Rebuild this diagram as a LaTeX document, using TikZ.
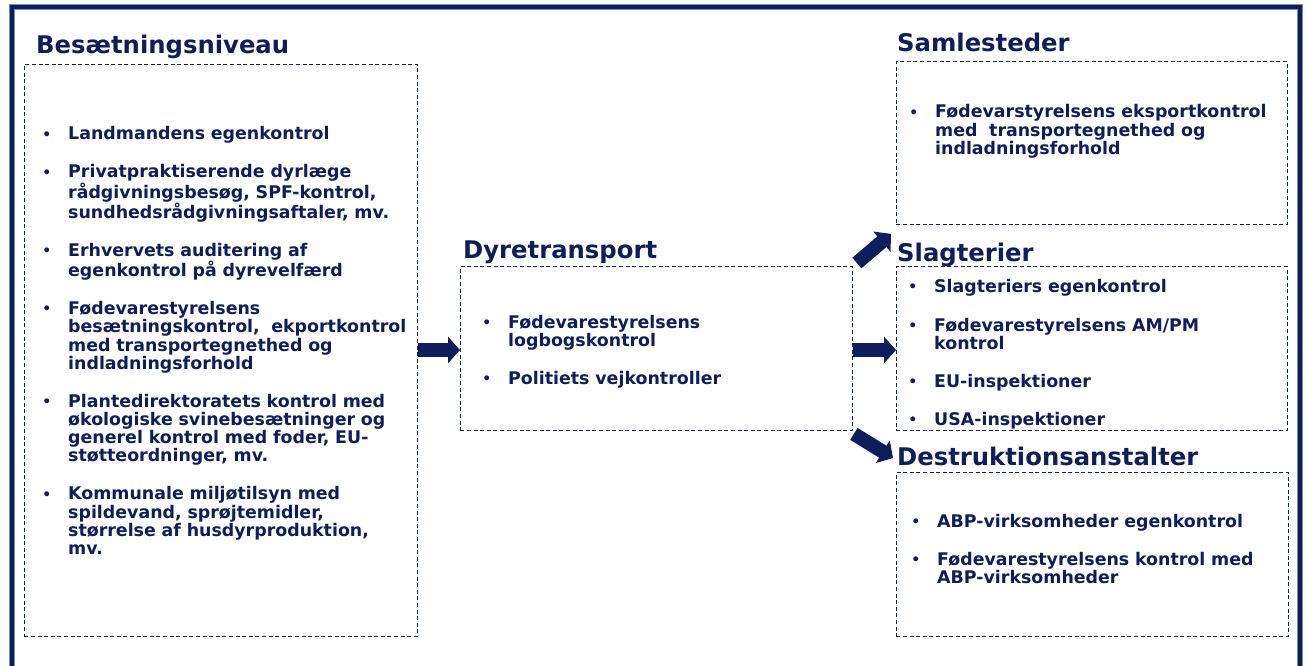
\documentclass[tikz,border=0pt]{standalone}
\usepackage{fontspec}
\setmainfont{DejaVu Sans}
\usetikzlibrary{arrows.meta,calc}
\definecolor{navy}{RGB}{12,30,92}
\definecolor{navyedge}{RGB}{120,138,190}
\setlength\parindent{0pt}
% bullet hung to the left of an item's first line
\newcommand\itm{\leavevmode\llap{\raisebox{0.8pt}{\fontsize{14}{14}\selectfont\textbullet}\hspace{17pt}}}
\newcommand\gap{\\[19.8pt]}

\begin{document}
\begin{tikzpicture}[x=1pt,y=-1pt,
  frame/.style={draw=navy,dash pattern=on 4pt off 2.6pt,line width=0.9pt,
    anchor=north west,inner sep=0pt},
  heading/.style={anchor=base west,inner sep=0pt,text=navy,
    font=\fontsize{24.3}{28}\selectfont\bfseries},
  bullets/.style={anchor=base west,inner sep=0pt,text=navy,text width=#1,
    align=left,font=\fontsize{17.4}{18.2}\selectfont\bfseries},
  blockarrow/.style={draw=navy,line width=14pt,
    -{Triangle[length=12pt,width=26pt]}},
]
\useasboundingbox (0,0) rectangle (1307,666);
\clip (0,0) rectangle (1307,666);

% outer frame, open at the bottom
\draw[navyedge,line width=5.6pt] (12,700) -- (12,7) -- (1300,7) -- (1300,700);
\draw[navy,line width=3.8pt] (12,700) -- (12,7) -- (1300,7) -- (1300,700);

% dashed boxes
\node[frame,minimum width=393pt,minimum height=572pt] (b1) at (24,64) {};
\node[frame,minimum width=392pt,minimum height=164pt] (b2) at (460,266) {};
\node[frame,minimum width=391pt,minimum height=163pt] (b3) at (896,61) {};
\node[frame,minimum width=391pt,minimum height=164pt] (b4) at (896,266) {};
\node[frame,minimum width=392pt,minimum height=164pt] (b5) at (896,472) {};

% headings
\node[heading] (h1) at (36,54) {Besætningsniveau};
\node[heading] (h2) at (463,258) {Dyretransport};
\node[heading] (h3) at (897,52) {Samlesteder};
\node[heading] (h4) at (897,261) {Slagterier};
\node[heading] (h5) at (897,465) {Destruktionsanstalter};

% item lists
\node[bullets=420pt] (l1) at (68,140) {%
\itm Landmandens egenkontrol\gap
\itm Privatpraktiserende dyrlæge\\ rådgivningsbesøg, SPF-kontrol,\\ sundhedsrådgivningsaftaler, mv.\gap
\itm Erhvervets auditering af\\ egenkontrol på dyrevelfærd\gap
\itm Fødevarestyrelsens\\ besætningskontrol,\ \ ekportkontrol\\ med transportegnethed og\\ indladningsforhold\gap
\itm Plantedirektoratets kontrol med\\ økologiske svinebesætninger og\\ generel kontrol med foder, EU-\\ støtteordninger, mv.\gap
\itm Kommunale miljøtilsyn med\\ spildevand, sprøjtemidler,\\ størrelse af husdyrproduktion,\\ mv.};

\node[bullets=380pt] (l2) at (508,328) {%
\itm Fødevarestyrelsens\\ logbogskontrol\gap
\itm Politiets vejkontroller};

\node[bullets=380pt] (l3) at (935,118) {%
\itm Fødevarstyrelsens eksportkontrol\\ med\ \ transportegnethed og\\ indladningsforhold};

\node[bullets=380pt] (l4) at (934,292) {%
\itm Slagteriers egenkontrol\\[20.8pt]
\itm Fødevarestyrelsens AM/PM\\ kontrol\gap
\itm EU-inspektioner\gap
\itm USA-inspektioner};

\node[bullets=380pt] (l5) at (937,527) {%
\itm ABP-virksomheder egenkontrol\gap
\itm Fødevarestyrelsens kontrol med\\ ABP-virksomheder};

% block arrows between the stages
\coordinate (ya) at (0,350);
\draw[blockarrow] (b1.east |- ya) -- (b2.west |- ya);
\draw[blockarrow] (b2.east |- ya) -- (b4.west |- ya);
\draw[blockarrow] ($(b2.north east)+(4,-3)$) -- ($(b3.south west)+(-5,9)$);
\draw[blockarrow] ($(b2.south east)+(1,3)$) -- ($(b5.north west)+(-3,-14)$);
\end{tikzpicture}
\end{document}
